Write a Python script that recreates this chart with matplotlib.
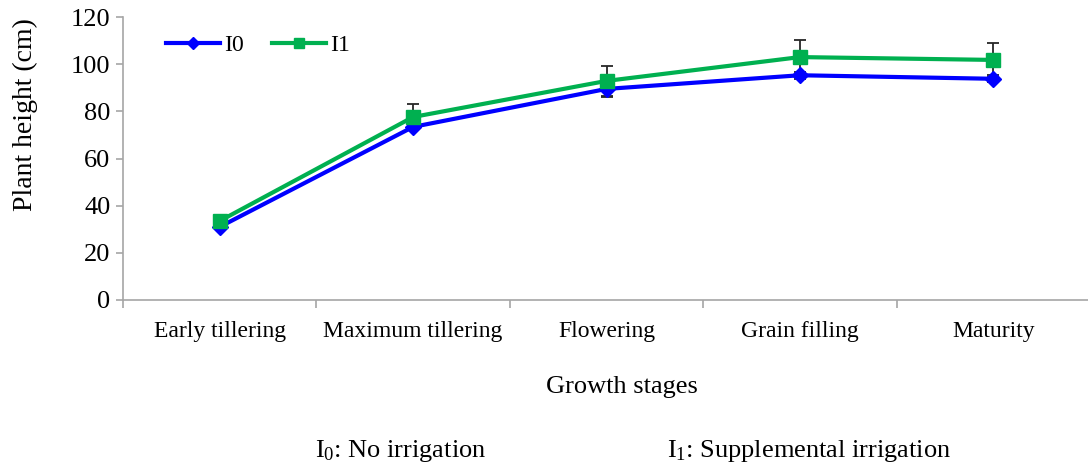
import matplotlib
matplotlib.use("Agg")
import matplotlib.pyplot as plt
import numpy as np

plt.rcParams['font.family'] = ['Liberation Serif', 'DejaVu Serif']
plt.rcParams['mathtext.fontset'] = 'custom'
plt.rcParams['mathtext.rm'] = 'Liberation Serif'
plt.rcParams['mathtext.it'] = 'Liberation Serif:italic'

stages = ["Early tillering", "Maximum tillering", "Flowering", "Grain filling", "Maturity"]
i0 = [31.0, 73.4, 89.5, 95.3, 93.8]
i1 = [33.5, 77.6, 92.9, 103.0, 101.8]
i0_err = [1.0, 1.5, 3.3, 1.5, 1.5]
i1_err = [1.5, 5.6, 6.3, 7.4, 7.2]
yticks = [0, 20, 40, 60, 80, 100, 120]

fig = plt.figure(figsize=(10.88, 4.68), dpi=100)
ax = fig.add_axes([123/1088, 1 - 300/468, (1090-123)/1088, (300-17)/468])

x = np.arange(len(stages))
gray = '#a6a6a6'

ax.errorbar(x, i0, yerr=i0_err, fmt='none', ecolor='#262626', elinewidth=1.3, capsize=4, capthick=1.3, zorder=2)
ax.errorbar(x, i1, yerr=i1_err, fmt='none', ecolor='#262626', elinewidth=1.3, capsize=4, capthick=1.3, zorder=2)
ax.plot(x, i0, color='#0000ff', lw=3, marker='D', ms=8.5, label='I0', zorder=3, clip_on=False)
ax.plot(x, i1, color='#00b050', lw=3, marker='s', ms=10.5, label='I1', zorder=4, clip_on=False)

ax.set_xlim(-0.5, len(stages) - 0.5)
ax.set_ylim(0, 120)
ax.set_yticks(yticks)
ax.set_yticklabels([str(v) for v in yticks], fontsize=19)
ax.set_xticks(np.arange(-0.5, len(stages), 1.0))
ax.set_xticklabels([])
ax.set_xticks(x, minor=True)
ax.set_xticklabels(stages, minor=True, fontsize=17)
ax.tick_params(axis='x', which='major', length=6, color=gray, width=1.2)
ax.tick_params(axis='x', which='minor', length=0, pad=15)
ax.tick_params(axis='y', length=5, color=gray, width=1.2, pad=4)

for s in ['top', 'right']:
    ax.spines[s].set_visible(False)
for s in ['left', 'bottom']:
    ax.spines[s].set_color(gray)
    ax.spines[s].set_linewidth(1.2)

ax.set_ylabel('Plant height (cm)', fontsize=20)
ax.yaxis.set_label_coords((25 - 123) / 967, (300 - 115) / 283)
ax.set_xlabel('Growth stages', fontsize=19)
ax.xaxis.set_label_coords((622 - 123) / 967, (300 - 387) / 283)
ax.xaxis.label.set_va('center')
ax.yaxis.label.set_va('center')

leg = ax.legend(loc='upper left', bbox_to_anchor=(0.023, 1.014), ncol=2, frameon=False,
                fontsize=17, handlelength=2.25, handletextpad=0.2, columnspacing=1.2,
                markerscale=0.75)

fig.text(315/1088, 1 - 451/468, r'I$_0$: No irrigation', fontsize=19, va='center', ha='left')
fig.text(667/1088, 1 - 451/468, r'I$_1$: Supplemental irrigation', fontsize=19, va='center', ha='left')

fig.savefig('out.png', dpi=100)
